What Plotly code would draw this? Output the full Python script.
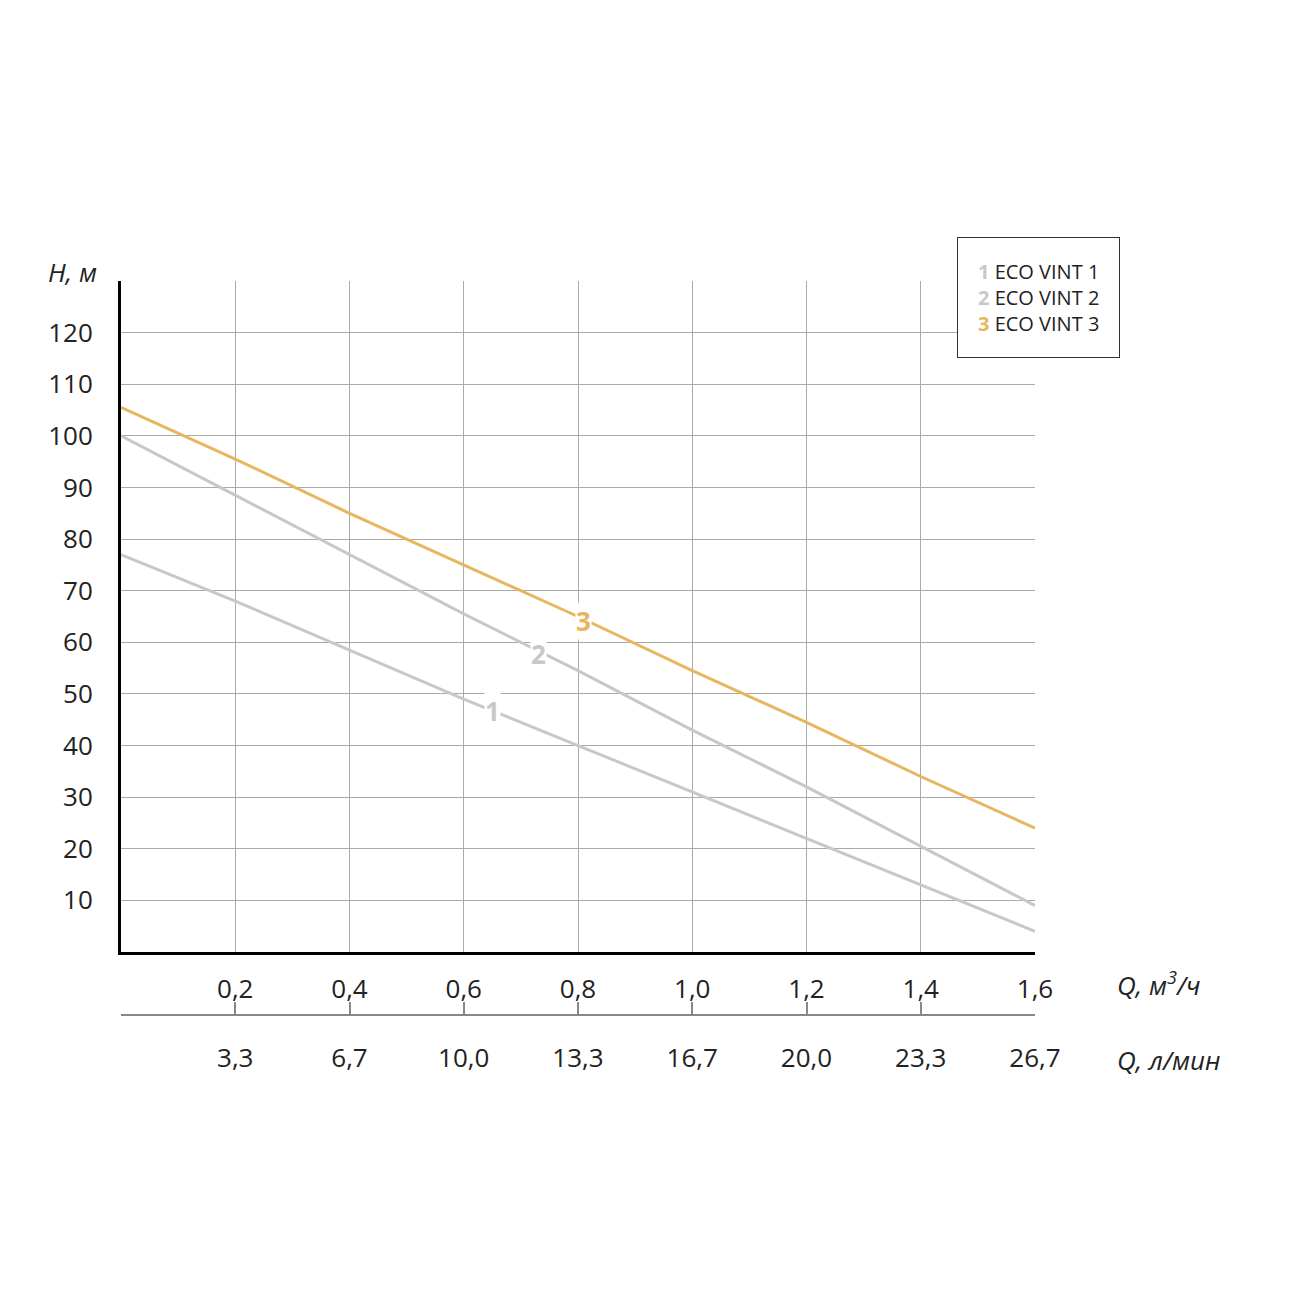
import plotly.graph_objects as go

q = [0, 0.2, 0.4, 0.6, 0.8, 1.0, 1.2, 1.4, 1.6]
h1 = [77, 68, 58.5, 49, 40, 31, 22, 13, 4]
h2 = [100, 88.5, 77, 65.5, 54.5, 43, 32, 20.5, 9]
h3 = [105.5, 95.5, 85, 75, 65, 54.5, 44.5, 34, 24]
x_ticks = [0.2, 0.4, 0.6, 0.8, 1.0, 1.2, 1.4, 1.6]
x_labels = ["0,2", "0,4", "0,6", "0,8", "1,0", "1,2", "1,4", "1,6"]
lmin_labels = ["3,3", "6,7", "10,0", "13,3", "16,7", "20,0", "23,3", "26,7"]
y_ticks = [10, 20, 30, 40, 50, 60, 70, 80, 90, 100, 110, 120, 130]
names = ["ECO VINT 1", "ECO VINT 2", "ECO VINT 3"]
curve_labels = [("1", 0.65, 46.6), ("2", 0.73, 57.8), ("3", 0.81, 64.2)]

GRAY = "#c8c8c8"
ORANGE = "#e8b660"
colors = [GRAY, GRAY, ORANGE]
FONT = "Open Sans"

fig = go.Figure()
for h, c, n in zip([h1, h2, h3], colors, names):
    fig.add_trace(go.Scatter(x=q, y=h, mode="lines", line=dict(color=c, width=3), name=n,
                             showlegend=False, hoverinfo="skip"))

fig.add_trace(go.Scatter(x=[0, 1.6], y=[None, None], xaxis="x2", yaxis="y", showlegend=False))

for (t, x, y), c in zip(curve_labels, colors):
    fig.add_annotation(x=x, y=y, text="<b>%s</b>" % t, showarrow=False, bgcolor="white",
                       font=dict(color=c, size=26, family=FONT), borderpad=0)

legend_text = "<br>".join('<span style="color:%s"><b>%d</b></span> %s' % (c, i + 1, n)
                          for i, (c, n) in enumerate(zip(colors, names)))
fig.add_annotation(xref="paper", yref="paper", x=(957 - 121) / 914, y=(1080 - 237) / 799,
                   text=legend_text, showarrow=False, align="left", bordercolor="#333", borderwidth=1,
                   borderpad=20, bgcolor="white", font=dict(size=20, color="#222", family=FONT),
                   xanchor="left", yanchor="top")

fig.add_annotation(xref="paper", yref="paper", x=-0.053, y=(1080 - 272) / 799, text="<i>H, м</i>",
                   showarrow=False, font=dict(size=26, color="#222", family=FONT),
                   xanchor="center", yanchor="middle")
fig.add_annotation(xref="paper", yref="paper", x=(1115 - 121) / 914, y=(1080 - 984) / 799,
                   text="<i>Q, м<sup>3</sup>/ч</i>", showarrow=False,
                   font=dict(size=26, color="#222", family=FONT), xanchor="left", yanchor="middle")
fig.add_annotation(xref="paper", yref="paper", x=(1115 - 121) / 914, y=(1080 - 1060) / 799,
                   text="<i>Q, л/мин</i>", showarrow=False,
                   font=dict(size=26, color="#222", family=FONT), xanchor="left", yanchor="middle")

fig.update_layout(
    width=1300, height=1300, plot_bgcolor="white", paper_bgcolor="white",
    margin=dict(l=113, r=273, t=273, b=228),
    font=dict(family=FONT, size=26, color="#222"),
    xaxis=dict(range=[0, 1.6], tickvals=x_ticks, ticktext=x_labels, showgrid=True, gridcolor="#aaa",
               gridwidth=1, showline=True, linecolor="black", linewidth=3, zeroline=False,
               ticks="", ticklabelstandoff=12, anchor="y"),
    xaxis2=dict(range=[0, 1.6], tickvals=[0] + x_ticks, ticktext=[""] + lmin_labels, overlaying="x",
                anchor="free", position=(1080 - 1015) / 799, side="bottom", showgrid=False,
                showline=True, linecolor="#888", linewidth=2, ticks="inside", ticklen=12,
                tickcolor="#888", tickwidth=2, zeroline=False, ticklabelstandoff=20),
    yaxis=dict(range=[0, 130], domain=[(1080 - 952) / 799, 1], tickvals=y_ticks,
               ticktext=[str(v) for v in y_ticks[:-1]] + [""], showgrid=True, gridcolor="#aaa",
               gridwidth=1, showline=True, linecolor="black", linewidth=3, zeroline=False,
               ticks="", ticklabelstandoff=20),
)
fig.write_html("out.html")
